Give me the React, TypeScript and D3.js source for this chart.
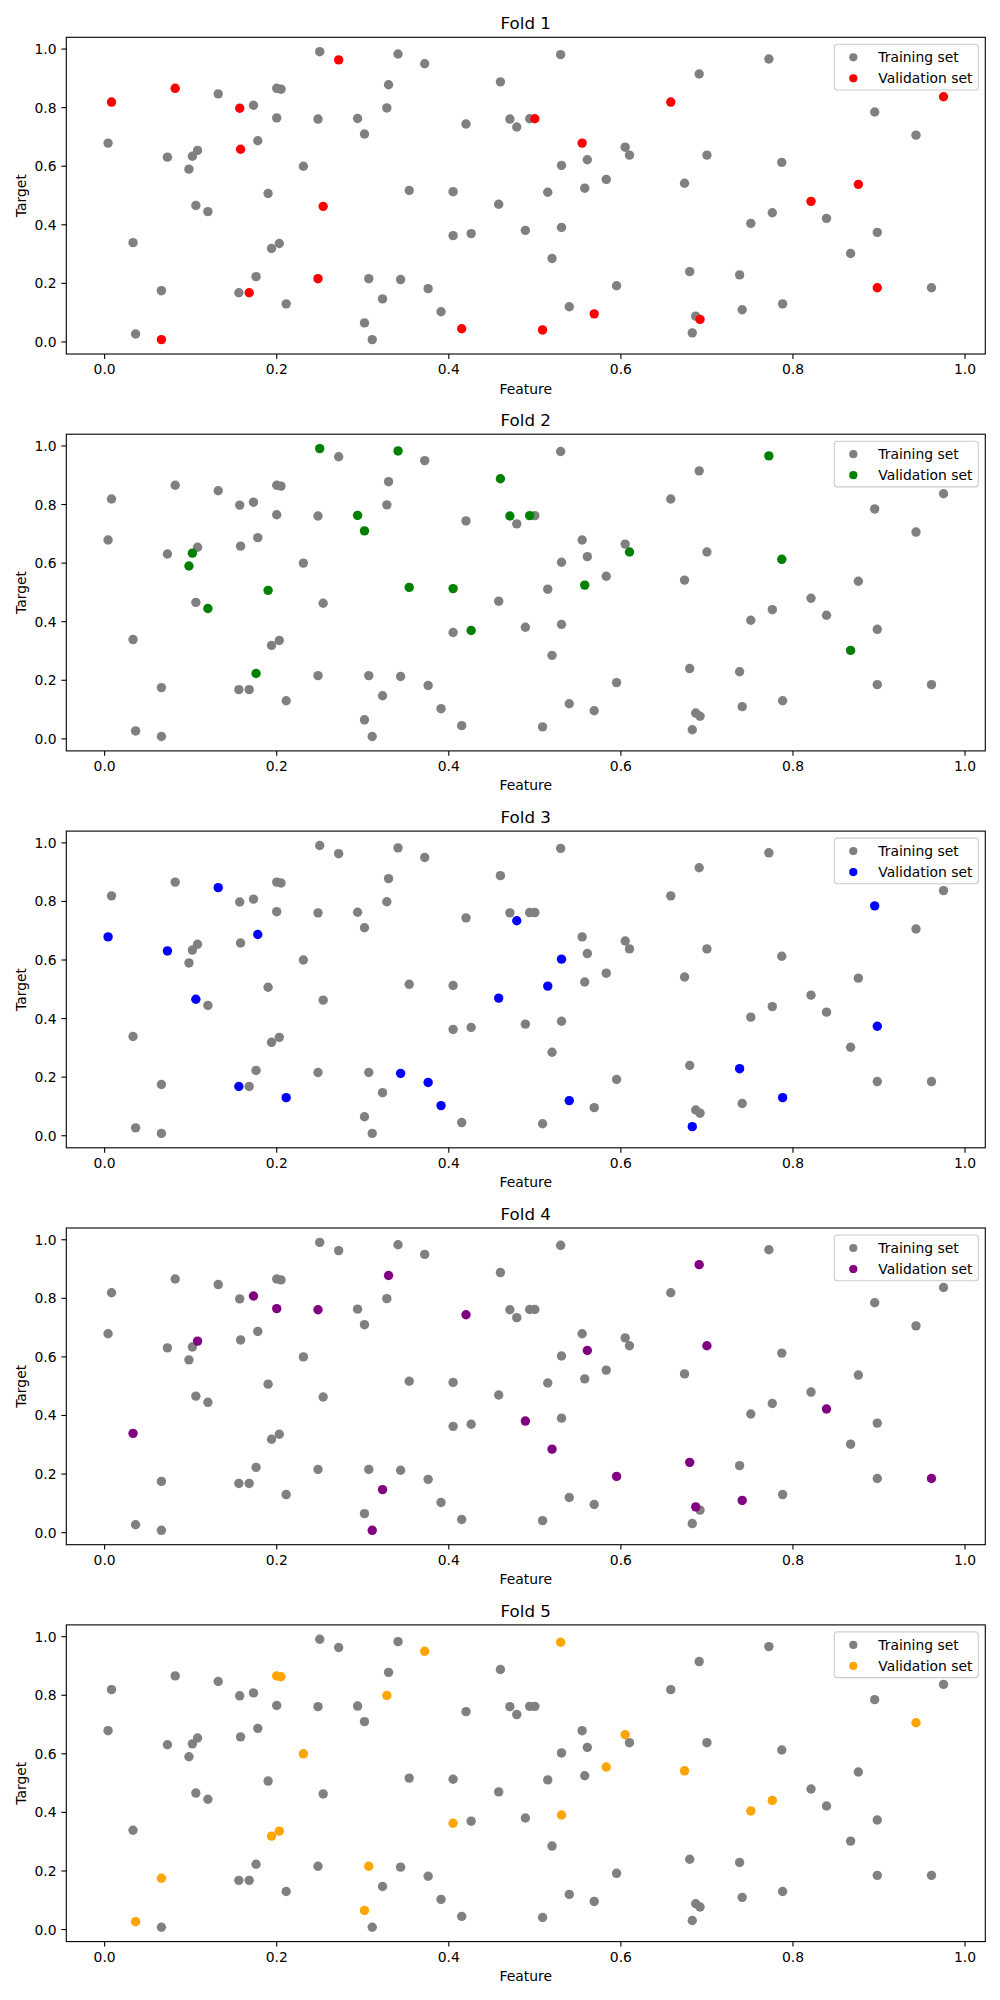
import React from "react";
import * as d3 from "d3";

// Points held out as the validation set in each fold (feature, target)
const fold1Feature = [0.272, 0.082, 0.008, 0.157, 0.658, 0.975, 0.5, 0.158, 0.555, 0.876, 0.254, 0.821, 0.248, 0.168, 0.898, 0.569, 0.692, 0.415, 0.509, 0.066];
const fold1Target = [0.963, 0.866, 0.819, 0.798, 0.819, 0.837, 0.762, 0.658, 0.679, 0.538, 0.463, 0.48, 0.216, 0.168, 0.185, 0.096, 0.077, 0.045, 0.041, 0.008];

const fold2Feature = [0.25, 0.341, 0.772, 0.46, 0.294, 0.302, 0.471, 0.494, 0.102, 0.098, 0.61, 0.787, 0.558, 0.19, 0.354, 0.405, 0.12, 0.426, 0.867, 0.176];
const fold2Target = [0.991, 0.983, 0.966, 0.888, 0.763, 0.71, 0.761, 0.762, 0.634, 0.59, 0.638, 0.613, 0.525, 0.507, 0.517, 0.513, 0.445, 0.37, 0.302, 0.223];

const fold3Feature = [0.132, 0.895, 0.479, 0.004, 0.073, 0.178, 0.531, 0.515, 0.106, 0.458, 0.898, 0.738, 0.344, 0.376, 0.156, 0.211, 0.788, 0.54, 0.391, 0.683];
const fold3Target = [0.847, 0.785, 0.734, 0.679, 0.631, 0.687, 0.603, 0.511, 0.466, 0.47, 0.374, 0.229, 0.213, 0.182, 0.168, 0.13, 0.13, 0.12, 0.103, 0.031];

const fold4Feature = [0.691, 0.33, 0.173, 0.2, 0.248, 0.42, 0.108, 0.561, 0.7, 0.839, 0.489, 0.033, 0.52, 0.68, 0.595, 0.961, 0.323, 0.741, 0.687, 0.311];
const fold4Target = [0.915, 0.878, 0.808, 0.765, 0.761, 0.744, 0.654, 0.622, 0.638, 0.422, 0.381, 0.339, 0.285, 0.24, 0.192, 0.185, 0.147, 0.11, 0.088, 0.008];

const fold5Feature = [0.372, 0.53, 0.2, 0.205, 0.328, 0.943, 0.231, 0.605, 0.583, 0.674, 0.776, 0.751, 0.405, 0.531, 0.194, 0.203, 0.307, 0.066, 0.302, 0.036];
const fold5Target = [0.95, 0.981, 0.866, 0.863, 0.799, 0.706, 0.6, 0.665, 0.555, 0.542, 0.441, 0.405, 0.363, 0.391, 0.319, 0.336, 0.216, 0.175, 0.065, 0.027];

const foldNames = ["Fold 1", "Fold 2", "Fold 3", "Fold 4", "Fold 5"];
const foldColors = ["red", "green", "blue", "purple", "orange"];
const trainingColor = "gray";
const tickValues = [0.0, 0.2, 0.4, 0.6, 0.8, 1.0];
const legendLabels = ["Training set", "Validation set"];

const folds = [
  { feature: fold1Feature, target: fold1Target },
  { feature: fold2Feature, target: fold2Target },
  { feature: fold3Feature, target: fold3Target },
  { feature: fold4Feature, target: fold4Target },
  { feature: fold5Feature, target: fold5Target },
];

const FONT = "'DejaVu Sans', Verdana, sans-serif";
const W = 1000;
const H = 2000;
const axLeft = 66.3;
const axRight = 985.3;
const firstTop = 37.3;
const panelStep = 396.9;
const axH = 316.7;
const R = 4.7;
const RL = 4.1;

const allX = folds.flatMap((f) => f.feature);
const allY = folds.flatMap((f) => f.target);

function padded(vals: number[]): [number, number] {
  const [lo, hi] = d3.extent(vals) as [number, number];
  const m = (hi - lo) * 0.05;
  return [lo - m, hi + m];
}

const xDomain = padded(allX);
const yDomain = padded(allY);

function Panel({ index }: { index: number }) {
  const top = firstTop + index * panelStep;
  const bottom = top + axH;
  const x = d3.scaleLinear().domain(xDomain).range([axLeft, axRight]);
  const y = d3.scaleLinear().domain(yDomain).range([bottom, top]);
  const training = folds
    .filter((_, j) => j !== index)
    .flatMap((f) => f.feature.map((fx, k) => [fx, f.target[k]] as [number, number]));
  const val = folds[index].feature.map((fx, k) => [fx, folds[index].target[k]] as [number, number]);
  const cx = (axLeft + axRight) / 2;
  const cy = (top + bottom) / 2;
  const lgRight = axRight - 7;
  const lgTop = top + 7;
  const lgW = 144;
  const lgH = 45.7;
  const lgLeft = lgRight - lgW;
  return (
    <g>
      <text x={cx} y={top - 8} textAnchor="middle" fontSize={16.7} fontFamily={FONT} fill="#000">
        {foldNames[index]}
      </text>
      {training.map((p, k) => (
        <circle key={"t" + k} cx={x(p[0])} cy={y(p[1])} r={R} fill={trainingColor} />
      ))}
      {val.map((p, k) => (
        <circle key={"v" + k} cx={x(p[0])} cy={y(p[1])} r={R} fill={foldColors[index]} />
      ))}
      <rect x={axLeft} y={top} width={axRight - axLeft} height={axH} fill="none" stroke="#000" strokeWidth={1.1} />
      {tickValues.map((t) => (
        <g key={"xt" + t}>
          <line x1={x(t)} x2={x(t)} y1={bottom} y2={bottom + 4.9} stroke="#000" strokeWidth={1.1} />
          <text x={x(t)} y={bottom + 20} textAnchor="middle" fontSize={13.9} fontFamily={FONT} fill="#000">
            {t.toFixed(1)}
          </text>
        </g>
      ))}
      {tickValues.map((t) => (
        <g key={"yt" + t}>
          <line x1={axLeft - 4.9} x2={axLeft} y1={y(t)} y2={y(t)} stroke="#000" strokeWidth={1.1} />
          <text x={axLeft - 9.8} y={y(t) + 5} textAnchor="end" fontSize={13.9} fontFamily={FONT} fill="#000">
            {t.toFixed(1)}
          </text>
        </g>
      ))}
      <text x={cx} y={bottom + 39.5} textAnchor="middle" fontSize={13.9} fontFamily={FONT} fill="#000">
        Feature
      </text>
      <text
        transform={`translate(25.5,${cy}) rotate(-90)`}
        textAnchor="middle"
        fontSize={13.9}
        fontFamily={FONT}
        fill="#000"
      >
        Target
      </text>
      <rect x={lgLeft} y={lgTop} width={lgW} height={lgH} rx={3} fill="#fff" fillOpacity={0.8} stroke="#ccc" strokeWidth={1.1} />
      <circle cx={lgLeft + 19} cy={lgTop + 13} r={RL} fill={trainingColor} />
      <circle cx={lgLeft + 19} cy={lgTop + 34} r={RL} fill={foldColors[index]} />
      <text x={lgLeft + 44} y={lgTop + 18} fontSize={13.9} fontFamily={FONT} fill="#000">
        {legendLabels[0]}
      </text>
      <text x={lgLeft + 44} y={lgTop + 39} fontSize={13.9} fontFamily={FONT} fill="#000">
        {legendLabels[1]}
      </text>
    </g>
  );
}

export default function App() {
  return (
    <svg
      width={W}
      height={H}
      viewBox={`0 0 ${W} ${H}`}
      style={{ position: "absolute", left: 0, top: 0, background: "#fff" }}
    >
      <rect x={0} y={0} width={W} height={H} fill="#fff" />
      {folds.map((_, i) => (
        <Panel key={i} index={i} />
      ))}
    </svg>
  );
}
